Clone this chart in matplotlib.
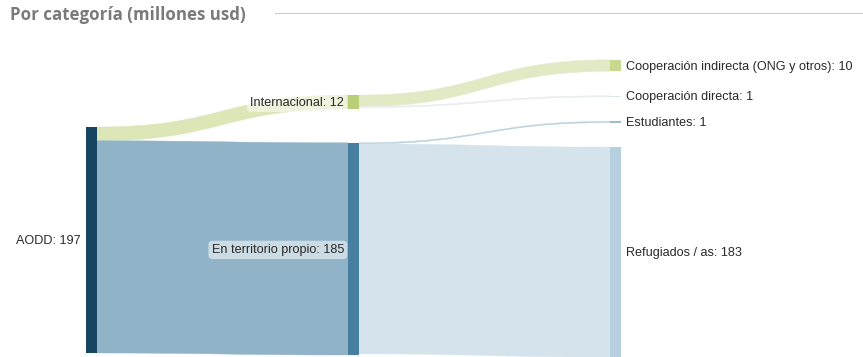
import matplotlib.pyplot as plt
import numpy as np
from matplotlib.path import Path
from matplotlib.patches import PathPatch, Rectangle

# data
node_names = ["AODD", "Internacional", "En territorio propio",
              "Cooperación indirecta (ONG y otros)", "Cooperación directa",
              "Estudiantes", "Refugiados / as"]
node_values = [197, 12, 185, 10, 1, 1, 183]
node_column = [0, 1, 1, 2, 2, 2, 2]

link_source = [0, 0, 1, 1, 2, 2]
link_target = [1, 2, 3, 4, 5, 6]
link_values = [12, 185, 10, 1, 1, 183]

# style
node_colors = ["#17445f", "#b9cf77", "#477fa1", "#c6d98f", "#dfe6ea", "#9dbcd0", "#b6d0df"]
link_colors = ["#dce6b6", "#90b3c7", "#e2eac5", "#e7ecee", "#bcd1de", "#d4e3ec"]

W, H = 863, 357
col_x = [86, 348, 610]
node_w = 11
col_bottom = [353, 355, 357]
col_gap = [0, 34, 24.5]
scale = 1.147  # px per million


def layout():
    tops = [0.0] * len(node_names)
    for c in range(3):
        idx = [i for i in range(len(node_names)) if node_column[i] == c]
        total = sum(node_values[i] * scale for i in idx) + col_gap[c] * (len(idx) - 1)
        y = col_bottom[c] - total
        for i in idx:
            tops[i] = y
            y += node_values[i] * scale + col_gap[c]
    return tops


def link_patch(x0, y0a, y0b, x1, y1a, y1b, color):
    xm = (x0 + x1) / 2
    verts = [(x0, y0a), (xm, y0a), (xm, y1a), (x1, y1a),
             (x1, y1b), (xm, y1b), (xm, y0b), (x0, y0b), (x0, y0a)]
    codes = [Path.MOVETO, Path.CURVE4, Path.CURVE4, Path.CURVE4,
             Path.LINETO, Path.CURVE4, Path.CURVE4, Path.CURVE4, Path.CLOSEPOLY]
    return PathPatch(Path(verts, codes), facecolor=color, edgecolor=color, lw=0.3)


fig = plt.figure(figsize=(W / 100, H / 100), dpi=100)
ax = fig.add_axes([0, 0, 1, 1])
ax.set_xlim(0, W)
ax.set_ylim(H, 0)
ax.axis("off")

tops = layout()
out_off = list(tops)
in_off = list(tops)

for s, t, v, c in zip(link_source, link_target, link_values, link_colors):
    h = v * scale
    x0 = col_x[node_column[s]] + node_w
    x1 = col_x[node_column[t]]
    ax.add_patch(link_patch(x0, out_off[s], out_off[s] + h, x1, in_off[t], in_off[t] + h, c))
    out_off[s] += h
    in_off[t] += h

label_font = dict(family=["Liberation Sans", "DejaVu Sans"], fontsize=9.1, color="#2a2a2a")
for i, name in enumerate(node_names):
    c = node_column[i]
    h = node_values[i] * scale
    ax.add_patch(Rectangle((col_x[c], tops[i]), node_w, h, facecolor=node_colors[i], edgecolor="none"))
    yc = tops[i] + h / 2 + 1
    text = f"{name}: {node_values[i]}"
    if c == 0:
        ax.text(col_x[c] - 5, yc, text, ha="right", va="center", **label_font)
    elif c == 1:
        ax.text(col_x[c] - 4, yc, text, ha="right", va="center", **label_font,
                bbox=dict(boxstyle="round,pad=0.25,rounding_size=0.3", fc="white", ec="none", alpha=0.55))
    else:
        ax.text(col_x[c] + node_w + 5, yc, text, ha="left", va="center", **label_font)

ax.text(10, 15, "Por categoría (millones usd)", ha="left", va="center",
        family=["Open Sans", "DejaVu Sans"], fontweight="bold", fontsize=12.2, color="#7a7a7a")
ax.plot([275, W], [13, 13], color="#cccccc", lw=0.8)

fig.savefig("out.png", dpi=100)
